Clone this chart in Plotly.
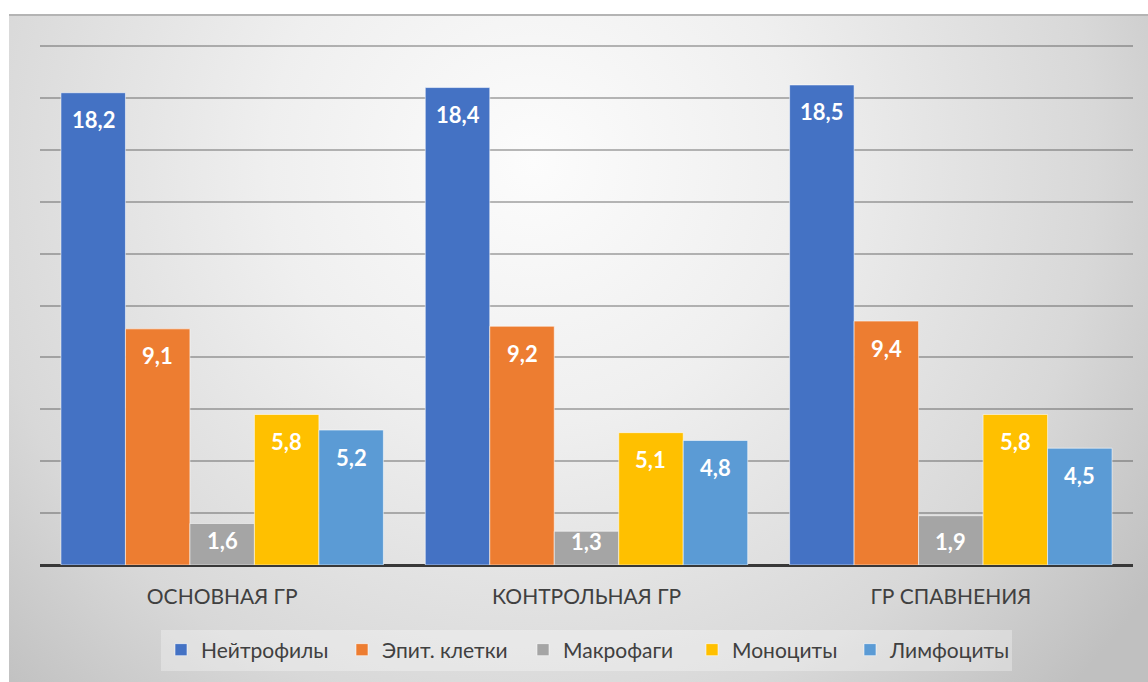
import base64
import plotly.graph_objects as go

categories = ["ОСНОВНАЯ ГР", "КОНТРОЛЬНАЯ ГР", "ГР СПАВНЕНИЯ"]
series_names = ["Нейтрофилы", "Эпит. клетки", "Макрофаги", "Моноциты", "Лимфоциты"]
neutrophils = [18.2, 18.4, 18.5]
epithelial = [9.1, 9.2, 9.4]
macrophages = [1.6, 1.3, 1.9]
monocytes = [5.8, 5.1, 5.8]
lymphocytes = [5.2, 4.8, 4.5]
series_values = [neutrophils, epithelial, macrophages, monocytes, lymphocytes]
colors = ["#4472C4", "#ED7D31", "#A5A5A5", "#FFC000", "#5B9BD5"]
legend_widths = [136, 136, 124, 113, 117]

FONT = "Lato"
W, H = 1148, 682
L, R, T, B = 40, 15, 45, 117
pw, ph = W - L - R, H - T - B
YMAX = 20.04
BARGAP = 0.115
ppu = ph / YMAX
bar_px = pw / len(categories) * (1 - BARGAP) / len(series_names)
zero_px = H - B

# background gradient (chart area) as svg image
bx0, by0 = 9, 14
bw, bh = W - bx0, H - by0
svg = f'''<svg xmlns="http://www.w3.org/2000/svg" width="{bw}" height="{bh}" viewBox="0 0 {bw} {bh}">
<defs><radialGradient id="g" gradientUnits="userSpaceOnUse" cx="{bw*0.46}" cy="{bh*0.22}" r="{bw*0.66}">
<stop offset="0" stop-color="#fcfcfc"/><stop offset="0.35" stop-color="#efefef"/><stop offset="0.75" stop-color="#d8d8d8"/><stop offset="1" stop-color="#c0c0c0"/>
</radialGradient></defs>
<rect x="0" y="0" width="{bw}" height="{bh}" fill="url(#g)"/>
<line x1="0" y1="1" x2="{bw}" y2="1" stroke="#b4b4b4" stroke-width="2"/>
</svg>'''
src = "data:image/svg+xml;base64," + base64.b64encode(svg.encode()).decode()

fig = go.Figure()
annotations = []
n = len(series_names)
for i, (name, vals, col, lw) in enumerate(zip(series_names, series_values, colors, legend_widths)):
    fig.add_trace(go.Bar(
        name=name, x=categories, y=vals,
        marker=dict(color=col, line=dict(color="rgba(255,255,255,0.55)", width=1)),
        legendwidth=lw,
        hoverinfo="x+y+name",
    ))
    for c, v in zip(categories, vals):
        hpx = v * ppu
        annotations.append(dict(
            x=c, y=v, xref="x", yref="y",
            text=f"{v:.1f}".replace(".", ","), showarrow=False,
            xshift=(i - (n - 1) / 2) * bar_px, yshift=-min(27, hpx - 24),
            yanchor="middle", xanchor="center",
            font=dict(family=FONT, size=22, color="white", weight="bold"),
        ))

fig.update_layout(
    width=W, height=H, margin=dict(l=L, r=R, t=T, b=B),
    paper_bgcolor="white", plot_bgcolor="rgba(0,0,0,0)",
    barmode="group", bargap=BARGAP, bargroupgap=0,
    annotations=annotations,
    showlegend=True,
    legend=dict(orientation="h", x=0.5, xanchor="center", y=(zero_px - 650) / ph, yanchor="middle",
                bgcolor="rgba(255,255,255,0.3)", font=dict(family=FONT, size=21, color="#404040"),
                itemwidth=30, traceorder="normal"),
    images=[dict(source=src, xref="paper", yref="paper",
                 x=(bx0 - L) / pw, y=(T + ph - by0) / ph, sizex=bw / pw, sizey=bh / ph,
                 xanchor="left", yanchor="top", sizing="stretch", layer="below")],
    xaxis=dict(showgrid=False, showline=False, ticks="", ticklabelstandoff=17,
               tickfont=dict(family=FONT, size=21, color="#404040")),
    yaxis=dict(range=[0, YMAX], tick0=0, dtick=2, showticklabels=False, showgrid=True,
               gridcolor="rgba(60,60,60,0.36)", gridwidth=2, layer="above traces",
               zeroline=True, zerolinecolor="#383838", zerolinewidth=3),
)
fig.write_html("out.html")
